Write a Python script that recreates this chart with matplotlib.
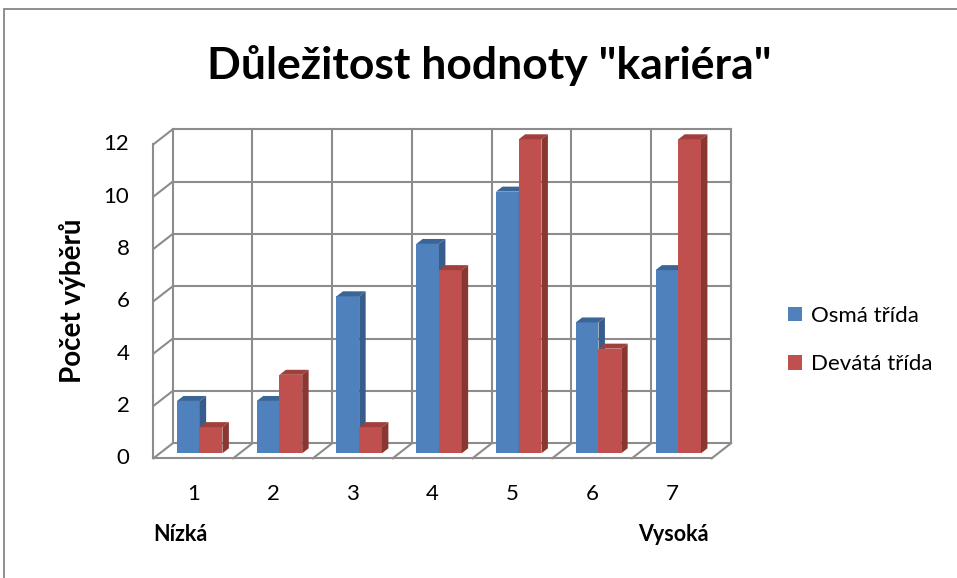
import matplotlib
matplotlib.use("Agg")
import matplotlib.pyplot as plt
from matplotlib.patches import Polygon, Rectangle, Patch

# ---- data ----
categories = ["1", "2", "3", "4", "5", "6", "7"]
osma = [2, 2, 6, 8, 10, 5, 7]
devata = [1, 3, 1, 7, 12, 4, 12]
series_names = ["Osmá třída", "Devátá třída"]
yticks = [0, 2, 4, 6, 8, 10, 12]
title = 'Důležitost hodnoty "kariéra"'
ylabel = "Počet výběrů"
low_label = "Nízká"
high_label = "Vysoká"

FONT = ["Lato", "DejaVu Sans"]
plt.rcParams["font.family"] = FONT

W, H = 957, 578
fig = plt.figure(figsize=(W / 100, H / 100), dpi=100)
fig.patch.set_facecolor("white")

# back wall in pixels
bx0, bx1 = 172.7, 731.0
by0, by1 = 443.3, 129.3
ax = fig.add_axes([bx0 / W, 1 - by0 / H, (bx1 - bx0) / W, (by0 - by1) / H])
ncat = len(categories)
ymax = 12
ax.set_xlim(0, ncat)
ax.set_ylim(0, ymax)
ax.axis("off")

px_x = (bx1 - bx0) / ncat
px_y = (by0 - by1) / ymax
DX = -19.3 / px_x
DY = -15.0 / px_y


def P(x, v, f):
    return (x + f * DX, v + f * DY)


grid_c = "#8c8c8c"
glw = 1.5

# back wall horizontal gridlines + left wall diagonals
for t in yticks:
    ax.plot([0, ncat], [t, t], color=grid_c, lw=glw, clip_on=False, zorder=1)
    a, b = P(0, t, 0), P(0, t, 1)
    ax.plot([a[0], b[0]], [a[1], b[1]], color=grid_c, lw=glw, clip_on=False, zorder=1)
# back wall vertical lines
for k in range(ncat + 1):
    ax.plot([k, k], [0, ymax], color=grid_c, lw=glw, clip_on=False, zorder=1)
# left wall front vertical edge
a, b = P(0, 0, 1), P(0, ymax, 1)
ax.plot([a[0], b[0]], [a[1], b[1]], color=grid_c, lw=glw, clip_on=False, zorder=1)
# floor: front edge and category diagonals
a, b = P(0, 0, 1), P(ncat, 0, 1)
ax.plot([a[0], b[0]], [a[1], b[1]], color=grid_c, lw=glw, clip_on=False, zorder=1)
for k in range(1, ncat + 1):
    a, b = P(k, 0, 0), P(k, 0, 1)
    ax.plot([a[0], b[0]], [a[1], b[1]], color=grid_c, lw=glw, clip_on=False, zorder=1)

# bars
bw = 0.285
off = (1 - 2 * bw) / 2
f0, f1 = 1 / 3, 2 / 3
styles = [("#4F81BD", "#3C6597", "#385D8A"), ("#C0504D", "#A03F3C", "#8A3734")]
for i in range(ncat):
    for s, vals in enumerate([osma, devata]):
        v = vals[i]
        xl = i + off + s * bw
        xr = xl + bw
        front, top, side = styles[s]
        z = 3 + i * 2 + s * 0.5
        ax.add_patch(Polygon([P(xl, 0, f1), P(xr, 0, f1), P(xr, v, f1), P(xl, v, f1)],
                             closed=True, fc=front, ec="none", zorder=z, clip_on=False))
        ax.add_patch(Polygon([P(xl, v, f1), P(xr, v, f1), P(xr, v, f0), P(xl, v, f0)],
                             closed=True, fc=top, ec="none", zorder=z, clip_on=False))
        ax.add_patch(Polygon([P(xr, 0, f1), P(xr, 0, f0), P(xr, v, f0), P(xr, v, f1)],
                             closed=True, fc=side, ec="none", zorder=z, clip_on=False))

# tick labels
for t in yticks:
    x, y = P(0, t, 1)
    ax.annotate(str(t), (x, y), xytext=(-24, 0), textcoords="offset pixels",
                ha="right", va="center", fontsize=16, color="black", annotation_clip=False)
for i, c in enumerate(categories):
    x, y = P(i + 0.5, 0, 1)
    ax.annotate(c, (x, y), xytext=(0, -36), textcoords="offset pixels",
                ha="center", va="center", fontsize=16, color="black", annotation_clip=False)

x, y = P(0.5, 0, 1)
ax.annotate(low_label, (x, y), xytext=(-13, -76), textcoords="offset pixels",
            ha="center", va="center", fontsize=15.5, fontweight="bold", annotation_clip=False)
x, y = P(ncat - 0.5, 0, 1)
ax.annotate(high_label, (x, y), xytext=(2, -76), textcoords="offset pixels",
            ha="center", va="center", fontsize=15.5, fontweight="bold", annotation_clip=False)

fig.text(73 / W, 1 - 301 / H, ylabel, rotation=90, ha="center", va="center",
         fontsize=20, fontweight="bold")
fig.text(489 / W, 1 - 66 / H, title, ha="center", va="center",
         fontsize=32, fontweight="bold")

handles = [Patch(facecolor=styles[0][0]), Patch(facecolor=styles[1][0])]
fig.legend(handles, series_names, loc="center left", bbox_to_anchor=(768 / W, 1 - 340 / H),
           frameon=False, fontsize=16, handlelength=0.62, handleheight=0.62,
           handletextpad=0.4, labelspacing=1.3)

# outer chart border
fig.add_artist(Rectangle((4 / W, -0.1), 1.2, 1.1 - 9 / H, transform=fig.transFigure,
                         fill=False, ec="#868686", lw=1.3))

fig.savefig("out.png", dpi=100)
